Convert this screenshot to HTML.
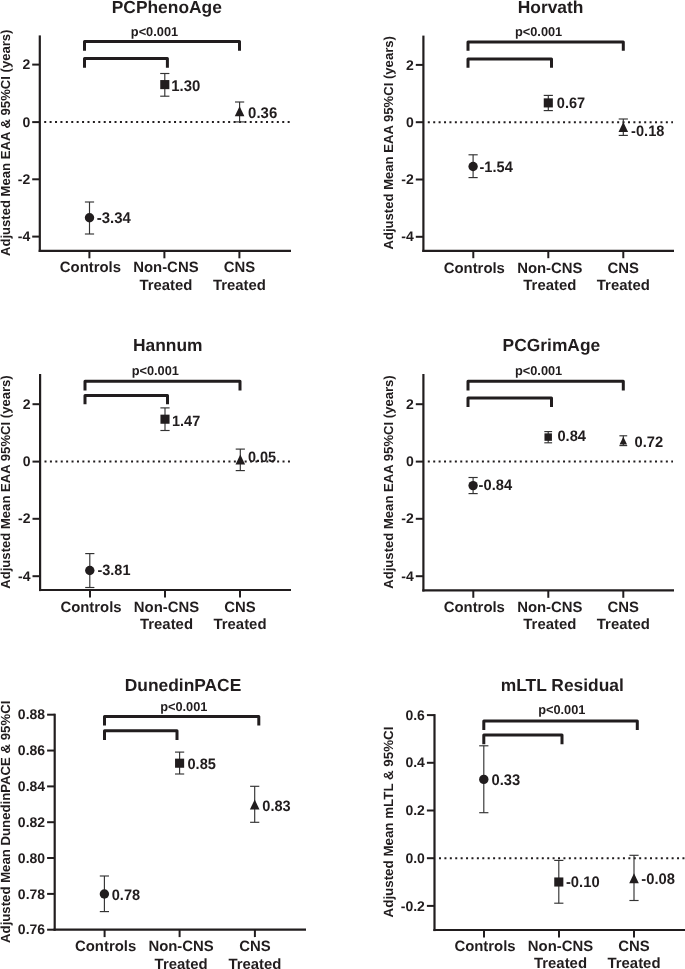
<!DOCTYPE html>
<html lang="en"><head><meta charset="utf-8"><title>Epigenetic age acceleration by group</title>
<style>html,body{margin:0;padding:0;background:#fff}body{width:685px;height:969px;overflow:hidden}svg{display:block;will-change:transform}svg text{text-rendering:geometricPrecision;font-family:'Liberation Sans', Arial, Helvetica, sans-serif;font-weight:700;fill:#211d1e}</style>
</head><body>
<svg width="685" height="969" viewBox="0 0 685 969">
<rect width="685" height="969" fill="#fff"/>
<g>
<text x="166.8" y="12.8" font-size="17.4" text-anchor="middle">PCPhenoAge</text>
<text transform="translate(10.4,142.8) rotate(-90)" font-size="13.1" text-anchor="middle">Adjusted Mean EAA &amp; 95%CI (years)</text>
<line x1="44.2" y1="122.1" x2="290" y2="122.1" stroke="#211d1e" stroke-width="2" stroke-dasharray="2 3.41"/>
<line x1="39.8" y1="35.4" x2="39.8" y2="252" stroke="#211d1e" stroke-width="2.2"/>
<line x1="38.7" y1="250.9" x2="291" y2="250.9" stroke="#211d1e" stroke-width="2.2"/>
<line x1="32.2" y1="64.6" x2="39.8" y2="64.6" stroke="#211d1e" stroke-width="2.0"/>
<text x="30.2" y="69.25" font-size="14" text-anchor="end">2</text>
<line x1="32.2" y1="122.1" x2="39.8" y2="122.1" stroke="#211d1e" stroke-width="2.0"/>
<text x="30.2" y="126.75" font-size="14" text-anchor="end">0</text>
<line x1="32.2" y1="179.3" x2="39.8" y2="179.3" stroke="#211d1e" stroke-width="2.0"/>
<text x="30.2" y="183.95" font-size="14" text-anchor="end">-2</text>
<line x1="32.2" y1="236.6" x2="39.8" y2="236.6" stroke="#211d1e" stroke-width="2.0"/>
<text x="30.2" y="241.25" font-size="14" text-anchor="end">-4</text>
<line x1="89.4" y1="250.9" x2="89.4" y2="258.3" stroke="#211d1e" stroke-width="2.0"/>
<line x1="164.4" y1="250.9" x2="164.4" y2="258.3" stroke="#211d1e" stroke-width="2.0"/>
<line x1="239.4" y1="250.9" x2="239.4" y2="258.3" stroke="#211d1e" stroke-width="2.0"/>
<text x="90.4" y="271.5" font-size="14.9" text-anchor="middle">Controls</text>
<text x="165.9" y="271.5" font-size="14.9" text-anchor="middle">Non-CNS</text>
<text x="165.9" y="289.6" font-size="14.9" text-anchor="middle">Treated</text>
<text x="239.4" y="271.5" font-size="14.9" text-anchor="middle">CNS</text>
<text x="239.4" y="289.6" font-size="14.9" text-anchor="middle">Treated</text>
<path d="M84.5 50.8V41.6H239.5V50.8" fill="none" stroke="#211d1e" stroke-width="3.0" stroke-linejoin="round"/>
<path d="M84.5 67.8V58.5H167.4V67.8" fill="none" stroke="#211d1e" stroke-width="3.0" stroke-linejoin="round"/>
<text x="154.5" y="35.6" font-size="12.8" text-anchor="middle">p&lt;0.001</text>
<line x1="89.5" y1="202" x2="89.5" y2="234" stroke="#333" stroke-width="1.15"/>
<line x1="84.9" y1="202" x2="94.1" y2="202" stroke="#333" stroke-width="1.15"/>
<line x1="84.9" y1="234" x2="94.1" y2="234" stroke="#333" stroke-width="1.15"/>
<circle cx="89.5" cy="217.8" r="4.7" fill="#211d1e"/>
<text transform="translate(96.75,223) scale(0.9662,1)" font-size="15.47">-3.34</text>
<line x1="164.8" y1="73.5" x2="164.8" y2="96.2" stroke="#333" stroke-width="1.15"/>
<line x1="160.2" y1="73.5" x2="169.4" y2="73.5" stroke="#333" stroke-width="1.15"/>
<line x1="160.2" y1="96.2" x2="169.4" y2="96.2" stroke="#333" stroke-width="1.15"/>
<rect x="160.25" y="80.05" width="9.1" height="9.1" fill="#211d1e"/>
<text transform="translate(171.3,90.9) scale(0.9662,1)" font-size="15.47">1.30</text>
<line x1="239.6" y1="102" x2="239.6" y2="121.9" stroke="#333" stroke-width="1.15"/>
<line x1="235" y1="102" x2="244.2" y2="102" stroke="#333" stroke-width="1.15"/>
<line x1="235" y1="121.9" x2="244.2" y2="121.9" stroke="#333" stroke-width="1.15"/>
<path d="M239.6 106.3L244.4 116.3H234.8Z" fill="#211d1e"/>
<text transform="translate(248.1,118) scale(0.9662,1)" font-size="15.47">0.36</text>
</g>
<g>
<text x="550.6" y="12.8" font-size="17.4" text-anchor="middle">Horvath</text>
<text transform="translate(392.5,142.8) rotate(-90)" font-size="13.1" text-anchor="middle">Adjusted Mean EAA 95%CI (years)</text>
<line x1="427.8" y1="122.2" x2="673" y2="122.2" stroke="#211d1e" stroke-width="2" stroke-dasharray="2 3.41"/>
<line x1="423.4" y1="35.6" x2="423.4" y2="251.9" stroke="#211d1e" stroke-width="2.2"/>
<line x1="422.3" y1="250.8" x2="674" y2="250.8" stroke="#211d1e" stroke-width="2.2"/>
<line x1="415.8" y1="64.9" x2="423.4" y2="64.9" stroke="#211d1e" stroke-width="2.0"/>
<text x="413.8" y="69.55" font-size="14" text-anchor="end">2</text>
<line x1="415.8" y1="122.2" x2="423.4" y2="122.2" stroke="#211d1e" stroke-width="2.0"/>
<text x="413.8" y="126.85" font-size="14" text-anchor="end">0</text>
<line x1="415.8" y1="179.5" x2="423.4" y2="179.5" stroke="#211d1e" stroke-width="2.0"/>
<text x="413.8" y="184.15" font-size="14" text-anchor="end">-2</text>
<line x1="415.8" y1="236.8" x2="423.4" y2="236.8" stroke="#211d1e" stroke-width="2.0"/>
<text x="413.8" y="241.45" font-size="14" text-anchor="end">-4</text>
<line x1="473.3" y1="250.8" x2="473.3" y2="258.2" stroke="#211d1e" stroke-width="2.0"/>
<line x1="548.3" y1="250.8" x2="548.3" y2="258.2" stroke="#211d1e" stroke-width="2.0"/>
<line x1="623.3" y1="250.8" x2="623.3" y2="258.2" stroke="#211d1e" stroke-width="2.0"/>
<text x="474.3" y="273.3" font-size="14.9" text-anchor="middle">Controls</text>
<text x="549.8" y="273.3" font-size="14.9" text-anchor="middle">Non-CNS</text>
<text x="549.8" y="289.8" font-size="14.9" text-anchor="middle">Treated</text>
<text x="623.3" y="273.3" font-size="14.9" text-anchor="middle">CNS</text>
<text x="623.3" y="289.8" font-size="14.9" text-anchor="middle">Treated</text>
<path d="M468 50.8V42H623.3V50.8" fill="none" stroke="#211d1e" stroke-width="3.0" stroke-linejoin="round"/>
<path d="M468 67.8V59H551.5V67.8" fill="none" stroke="#211d1e" stroke-width="3.0" stroke-linejoin="round"/>
<text x="538.6" y="35.7" font-size="12.8" text-anchor="middle">p&lt;0.001</text>
<line x1="473.1" y1="154.8" x2="473.1" y2="177.6" stroke="#333" stroke-width="1.15"/>
<line x1="468.5" y1="154.8" x2="477.7" y2="154.8" stroke="#333" stroke-width="1.15"/>
<line x1="468.5" y1="177.6" x2="477.7" y2="177.6" stroke="#333" stroke-width="1.15"/>
<circle cx="473.1" cy="166.45" r="4.7" fill="#211d1e"/>
<text transform="translate(479.5,171.7) scale(0.9662,1)" font-size="15.11">-1.54</text>
<line x1="548.3" y1="95.4" x2="548.3" y2="110.6" stroke="#333" stroke-width="1.15"/>
<line x1="543.7" y1="95.4" x2="552.9" y2="95.4" stroke="#333" stroke-width="1.15"/>
<line x1="543.7" y1="110.6" x2="552.9" y2="110.6" stroke="#333" stroke-width="1.15"/>
<rect x="543.75" y="98.35" width="9.1" height="9.1" fill="#211d1e"/>
<text transform="translate(556.8,107.9) scale(0.9662,1)" font-size="15.11">0.67</text>
<line x1="623.3" y1="119" x2="623.3" y2="135.4" stroke="#333" stroke-width="1.15"/>
<line x1="618.7" y1="119" x2="627.9" y2="119" stroke="#333" stroke-width="1.15"/>
<line x1="618.7" y1="135.4" x2="627.9" y2="135.4" stroke="#333" stroke-width="1.15"/>
<path d="M623.3 122L628.1 132H618.5Z" fill="#211d1e"/>
<text transform="translate(631.1,136.1) scale(0.9662,1)" font-size="15.11">-0.18</text>
</g>
<g>
<text x="167.8" y="351.3" font-size="17.4" text-anchor="middle">Hannum</text>
<text transform="translate(10.4,482) rotate(-90)" font-size="13.1" text-anchor="middle">Adjusted Mean EAA 95%CI (years)</text>
<line x1="44.5" y1="461.6" x2="290" y2="461.6" stroke="#211d1e" stroke-width="2" stroke-dasharray="2 3.41"/>
<line x1="40.1" y1="374" x2="40.1" y2="591.1" stroke="#211d1e" stroke-width="2.2"/>
<line x1="39" y1="590" x2="291" y2="590" stroke="#211d1e" stroke-width="2.2"/>
<line x1="32.5" y1="404.2" x2="40.1" y2="404.2" stroke="#211d1e" stroke-width="2.0"/>
<text x="30.5" y="408.85" font-size="14" text-anchor="end">2</text>
<line x1="32.5" y1="461.6" x2="40.1" y2="461.6" stroke="#211d1e" stroke-width="2.0"/>
<text x="30.5" y="466.25" font-size="14" text-anchor="end">0</text>
<line x1="32.5" y1="518.8" x2="40.1" y2="518.8" stroke="#211d1e" stroke-width="2.0"/>
<text x="30.5" y="523.45" font-size="14" text-anchor="end">-2</text>
<line x1="32.5" y1="576.2" x2="40.1" y2="576.2" stroke="#211d1e" stroke-width="2.0"/>
<text x="30.5" y="580.85" font-size="14" text-anchor="end">-4</text>
<line x1="90" y1="590" x2="90" y2="597.4" stroke="#211d1e" stroke-width="2.0"/>
<line x1="165" y1="590" x2="165" y2="597.4" stroke="#211d1e" stroke-width="2.0"/>
<line x1="240" y1="590" x2="240" y2="597.4" stroke="#211d1e" stroke-width="2.0"/>
<text x="91" y="611.8" font-size="14.9" text-anchor="middle">Controls</text>
<text x="166.5" y="611.8" font-size="14.9" text-anchor="middle">Non-CNS</text>
<text x="166.5" y="628.9" font-size="14.9" text-anchor="middle">Treated</text>
<text x="240" y="611.8" font-size="14.9" text-anchor="middle">CNS</text>
<text x="240" y="628.9" font-size="14.9" text-anchor="middle">Treated</text>
<path d="M85 390.4V381.2H240V390.4" fill="none" stroke="#211d1e" stroke-width="3.0" stroke-linejoin="round"/>
<path d="M85 404.3V395.4H167.5V404.3" fill="none" stroke="#211d1e" stroke-width="3.0" stroke-linejoin="round"/>
<text x="155.3" y="374.6" font-size="12.8" text-anchor="middle">p&lt;0.001</text>
<line x1="89.8" y1="553.6" x2="89.8" y2="587.5" stroke="#333" stroke-width="1.15"/>
<line x1="85.2" y1="553.6" x2="94.4" y2="553.6" stroke="#333" stroke-width="1.15"/>
<line x1="85.2" y1="587.5" x2="94.4" y2="587.5" stroke="#333" stroke-width="1.15"/>
<circle cx="89.8" cy="570.5" r="4.7" fill="#211d1e"/>
<text transform="translate(97.45,574.9) scale(0.9662,1)" font-size="15.01">-3.81</text>
<line x1="165" y1="407.9" x2="165" y2="430.5" stroke="#333" stroke-width="1.15"/>
<line x1="160.4" y1="407.9" x2="169.6" y2="407.9" stroke="#333" stroke-width="1.15"/>
<line x1="160.4" y1="430.5" x2="169.6" y2="430.5" stroke="#333" stroke-width="1.15"/>
<rect x="160.45" y="414.65" width="9.1" height="9.1" fill="#211d1e"/>
<text transform="translate(172,425.8) scale(0.9662,1)" font-size="15.01">1.47</text>
<line x1="240.3" y1="449.1" x2="240.3" y2="470.6" stroke="#333" stroke-width="1.15"/>
<line x1="235.7" y1="449.1" x2="244.9" y2="449.1" stroke="#333" stroke-width="1.15"/>
<line x1="235.7" y1="470.6" x2="244.9" y2="470.6" stroke="#333" stroke-width="1.15"/>
<path d="M240.3 454.4L245.1 464.4H235.5Z" fill="#211d1e"/>
<text transform="translate(247.9,462) scale(0.9662,1)" font-size="15.01">0.05</text>
</g>
<g>
<text x="551.4" y="351.3" font-size="17.4" text-anchor="middle">PCGrimAge</text>
<text transform="translate(392.5,482) rotate(-90)" font-size="13.1" text-anchor="middle">Adjusted Mean EAA 95%CI (years)</text>
<line x1="427.8" y1="461.6" x2="673" y2="461.6" stroke="#211d1e" stroke-width="2" stroke-dasharray="2 3.41"/>
<line x1="423.4" y1="374" x2="423.4" y2="591.5" stroke="#211d1e" stroke-width="2.2"/>
<line x1="422.3" y1="590.4" x2="674" y2="590.4" stroke="#211d1e" stroke-width="2.2"/>
<line x1="415.8" y1="404.2" x2="423.4" y2="404.2" stroke="#211d1e" stroke-width="2.0"/>
<text x="413.8" y="408.85" font-size="14" text-anchor="end">2</text>
<line x1="415.8" y1="461.6" x2="423.4" y2="461.6" stroke="#211d1e" stroke-width="2.0"/>
<text x="413.8" y="466.25" font-size="14" text-anchor="end">0</text>
<line x1="415.8" y1="518.8" x2="423.4" y2="518.8" stroke="#211d1e" stroke-width="2.0"/>
<text x="413.8" y="523.45" font-size="14" text-anchor="end">-2</text>
<line x1="415.8" y1="576.2" x2="423.4" y2="576.2" stroke="#211d1e" stroke-width="2.0"/>
<text x="413.8" y="580.85" font-size="14" text-anchor="end">-4</text>
<line x1="473.3" y1="590.4" x2="473.3" y2="597.8" stroke="#211d1e" stroke-width="2.0"/>
<line x1="548.3" y1="590.4" x2="548.3" y2="597.8" stroke="#211d1e" stroke-width="2.0"/>
<line x1="623.3" y1="590.4" x2="623.3" y2="597.8" stroke="#211d1e" stroke-width="2.0"/>
<text x="474.3" y="612.3" font-size="14.9" text-anchor="middle">Controls</text>
<text x="549.8" y="612.3" font-size="14.9" text-anchor="middle">Non-CNS</text>
<text x="549.8" y="628.5" font-size="14.9" text-anchor="middle">Treated</text>
<text x="623.3" y="612.3" font-size="14.9" text-anchor="middle">CNS</text>
<text x="623.3" y="628.5" font-size="14.9" text-anchor="middle">Treated</text>
<path d="M468 390.4V381.2H623.3V390.4" fill="none" stroke="#211d1e" stroke-width="3.0" stroke-linejoin="round"/>
<path d="M468 407.1V398H551.5V407.1" fill="none" stroke="#211d1e" stroke-width="3.0" stroke-linejoin="round"/>
<text x="538.6" y="374.9" font-size="12.8" text-anchor="middle">p&lt;0.001</text>
<line x1="473.1" y1="477.5" x2="473.1" y2="493.6" stroke="#333" stroke-width="1.15"/>
<line x1="468.5" y1="477.5" x2="477.7" y2="477.5" stroke="#333" stroke-width="1.15"/>
<line x1="468.5" y1="493.6" x2="477.7" y2="493.6" stroke="#333" stroke-width="1.15"/>
<circle cx="473.1" cy="485.6" r="4.7" fill="#211d1e"/>
<text transform="translate(478.6,490.1) scale(0.9662,1)" font-size="15.21">-0.84</text>
<line x1="548.2" y1="431.6" x2="548.2" y2="442.8" stroke="#333" stroke-width="1.15"/>
<line x1="544.29" y1="431.6" x2="552.11" y2="431.6" stroke="#333" stroke-width="1.15"/>
<line x1="544.29" y1="442.8" x2="552.11" y2="442.8" stroke="#333" stroke-width="1.15"/>
<rect x="544.47" y="433.37" width="7.46" height="7.46" fill="#211d1e"/>
<text transform="translate(557.4,441) scale(0.9662,1)" font-size="15.21">0.84</text>
<line x1="623.3" y1="435.8" x2="623.3" y2="445.6" stroke="#333" stroke-width="1.15"/>
<line x1="619.39" y1="435.8" x2="627.21" y2="435.8" stroke="#333" stroke-width="1.15"/>
<line x1="619.39" y1="445.6" x2="627.21" y2="445.6" stroke="#333" stroke-width="1.15"/>
<path d="M623.3 436.63L627.04 444.57H619.56Z" fill="#211d1e"/>
<text transform="translate(634.5,446.9) scale(0.9662,1)" font-size="15.21">0.72</text>
</g>
<g>
<text x="183" y="690.6" font-size="17.4" text-anchor="middle">DunedinPACE</text>
<text transform="translate(10.3,821.8) rotate(-90)" font-size="13.2" text-anchor="middle">Adjusted Mean DunedinPACE &amp; 95%CI</text>
<line x1="54.7" y1="713.7" x2="54.7" y2="930.8" stroke="#211d1e" stroke-width="2.2"/>
<line x1="53.6" y1="929.7" x2="306" y2="929.7" stroke="#211d1e" stroke-width="2.2"/>
<line x1="47.1" y1="714.7" x2="54.7" y2="714.7" stroke="#211d1e" stroke-width="2.0"/>
<text x="45.1" y="719.35" font-size="14" text-anchor="end">0.88</text>
<line x1="47.1" y1="750.55" x2="54.7" y2="750.55" stroke="#211d1e" stroke-width="2.0"/>
<text x="45.1" y="755.2" font-size="14" text-anchor="end">0.86</text>
<line x1="47.1" y1="786.4" x2="54.7" y2="786.4" stroke="#211d1e" stroke-width="2.0"/>
<text x="45.1" y="791.05" font-size="14" text-anchor="end">0.84</text>
<line x1="47.1" y1="822.2" x2="54.7" y2="822.2" stroke="#211d1e" stroke-width="2.0"/>
<text x="45.1" y="826.85" font-size="14" text-anchor="end">0.82</text>
<line x1="47.1" y1="858" x2="54.7" y2="858" stroke="#211d1e" stroke-width="2.0"/>
<text x="45.1" y="862.65" font-size="14" text-anchor="end">0.80</text>
<line x1="47.1" y1="893.9" x2="54.7" y2="893.9" stroke="#211d1e" stroke-width="2.0"/>
<text x="45.1" y="898.55" font-size="14" text-anchor="end">0.78</text>
<line x1="47.1" y1="929.7" x2="54.7" y2="929.7" stroke="#211d1e" stroke-width="2.0"/>
<text x="45.1" y="934.35" font-size="14" text-anchor="end">0.76</text>
<line x1="104.6" y1="929.7" x2="104.6" y2="937.1" stroke="#211d1e" stroke-width="2.0"/>
<line x1="179.6" y1="929.7" x2="179.6" y2="937.1" stroke="#211d1e" stroke-width="2.0"/>
<line x1="254.9" y1="929.7" x2="254.9" y2="937.1" stroke="#211d1e" stroke-width="2.0"/>
<text x="105.6" y="950.7" font-size="14.9" text-anchor="middle">Controls</text>
<text x="181.1" y="950.7" font-size="14.9" text-anchor="middle">Non-CNS</text>
<text x="181.1" y="968.6" font-size="14.9" text-anchor="middle">Treated</text>
<text x="254.9" y="950.7" font-size="14.9" text-anchor="middle">CNS</text>
<text x="254.9" y="968.6" font-size="14.9" text-anchor="middle">Treated</text>
<path d="M104.5 725.4V716.5H258.8V725.4" fill="none" stroke="#211d1e" stroke-width="3.0" stroke-linejoin="round"/>
<path d="M104.5 740.1V730.8H177V740.1" fill="none" stroke="#211d1e" stroke-width="3.0" stroke-linejoin="round"/>
<text x="183.8" y="710.5" font-size="12.8" text-anchor="middle">p&lt;0.001</text>
<line x1="104.4" y1="876" x2="104.4" y2="911.6" stroke="#333" stroke-width="1.15"/>
<line x1="99.8" y1="876" x2="109" y2="876" stroke="#333" stroke-width="1.15"/>
<line x1="99.8" y1="911.6" x2="109" y2="911.6" stroke="#333" stroke-width="1.15"/>
<circle cx="104.4" cy="894" r="4.7" fill="#211d1e"/>
<text transform="translate(111.75,899.5) scale(0.9662,1)" font-size="15.11">0.78</text>
<line x1="179.6" y1="752.1" x2="179.6" y2="774" stroke="#333" stroke-width="1.15"/>
<line x1="175" y1="752.1" x2="184.2" y2="752.1" stroke="#333" stroke-width="1.15"/>
<line x1="175" y1="774" x2="184.2" y2="774" stroke="#333" stroke-width="1.15"/>
<rect x="175.05" y="758.65" width="9.1" height="9.1" fill="#211d1e"/>
<text transform="translate(187.45,768.9) scale(0.9662,1)" font-size="15.11">0.85</text>
<line x1="254.7" y1="786.3" x2="254.7" y2="822.3" stroke="#333" stroke-width="1.15"/>
<line x1="250.1" y1="786.3" x2="259.3" y2="786.3" stroke="#333" stroke-width="1.15"/>
<line x1="250.1" y1="822.3" x2="259.3" y2="822.3" stroke="#333" stroke-width="1.15"/>
<path d="M254.7 799.4L259.5 809.4H249.9Z" fill="#211d1e"/>
<text transform="translate(262.3,810.6) scale(0.9662,1)" font-size="15.11">0.83</text>
</g>
<g>
<text x="562.3" y="690.6" font-size="17.4" text-anchor="middle">mLTL Residual</text>
<text transform="translate(392.8,822) rotate(-90)" font-size="13.35" text-anchor="middle">Adjusted Mean mLTL &amp; 95%CI</text>
<line x1="439" y1="858.2" x2="685" y2="858.2" stroke="#211d1e" stroke-width="2" stroke-dasharray="2 3.41"/>
<line x1="434.5" y1="714.1" x2="434.5" y2="931.1" stroke="#211d1e" stroke-width="2.2"/>
<line x1="433.4" y1="930" x2="685" y2="930" stroke="#211d1e" stroke-width="2.2"/>
<line x1="426.9" y1="715.1" x2="434.5" y2="715.1" stroke="#211d1e" stroke-width="2.0"/>
<text x="424.9" y="719.75" font-size="14" text-anchor="end">0.6</text>
<line x1="426.9" y1="762.8" x2="434.5" y2="762.8" stroke="#211d1e" stroke-width="2.0"/>
<text x="424.9" y="767.45" font-size="14" text-anchor="end">0.4</text>
<line x1="426.9" y1="810.5" x2="434.5" y2="810.5" stroke="#211d1e" stroke-width="2.0"/>
<text x="424.9" y="815.15" font-size="14" text-anchor="end">0.2</text>
<line x1="426.9" y1="858.2" x2="434.5" y2="858.2" stroke="#211d1e" stroke-width="2.0"/>
<text x="424.9" y="862.85" font-size="14" text-anchor="end">0.0</text>
<line x1="426.9" y1="905.9" x2="434.5" y2="905.9" stroke="#211d1e" stroke-width="2.0"/>
<text x="424.9" y="910.55" font-size="14" text-anchor="end">-0.2</text>
<line x1="484" y1="930" x2="484" y2="937.4" stroke="#211d1e" stroke-width="2.0"/>
<line x1="559" y1="930" x2="559" y2="937.4" stroke="#211d1e" stroke-width="2.0"/>
<line x1="634" y1="930" x2="634" y2="937.4" stroke="#211d1e" stroke-width="2.0"/>
<text x="485" y="950.7" font-size="14.9" text-anchor="middle">Controls</text>
<text x="560.5" y="950.7" font-size="14.9" text-anchor="middle">Non-CNS</text>
<text x="560.5" y="968.1" font-size="14.9" text-anchor="middle">Treated</text>
<text x="634" y="950.7" font-size="14.9" text-anchor="middle">CNS</text>
<text x="634" y="968.1" font-size="14.9" text-anchor="middle">Treated</text>
<path d="M483.8 730.1V721H637.3V730.1" fill="none" stroke="#211d1e" stroke-width="3.0" stroke-linejoin="round"/>
<path d="M483.8 744.3V735H562V744.3" fill="none" stroke="#211d1e" stroke-width="3.0" stroke-linejoin="round"/>
<text x="561.8" y="714.4" font-size="12.8" text-anchor="middle">p&lt;0.001</text>
<line x1="483.8" y1="745.8" x2="483.8" y2="812.7" stroke="#333" stroke-width="1.15"/>
<line x1="479.2" y1="745.8" x2="488.4" y2="745.8" stroke="#333" stroke-width="1.15"/>
<line x1="479.2" y1="812.7" x2="488.4" y2="812.7" stroke="#333" stroke-width="1.15"/>
<circle cx="483.8" cy="779.4" r="4.7" fill="#211d1e"/>
<text transform="translate(491.4,784.6) scale(0.9662,1)" font-size="15.32">0.33</text>
<line x1="558.8" y1="860.4" x2="558.8" y2="903.2" stroke="#333" stroke-width="1.15"/>
<line x1="554.2" y1="860.4" x2="563.4" y2="860.4" stroke="#333" stroke-width="1.15"/>
<line x1="554.2" y1="903.2" x2="563.4" y2="903.2" stroke="#333" stroke-width="1.15"/>
<rect x="554.25" y="877.45" width="9.1" height="9.1" fill="#211d1e"/>
<text transform="translate(565.9,886.5) scale(0.9662,1)" font-size="15.32">-0.10</text>
<line x1="634" y1="855.3" x2="634" y2="900.5" stroke="#333" stroke-width="1.15"/>
<line x1="629.4" y1="855.3" x2="638.6" y2="855.3" stroke="#333" stroke-width="1.15"/>
<line x1="629.4" y1="900.5" x2="638.6" y2="900.5" stroke="#333" stroke-width="1.15"/>
<path d="M634 873.2L638.8 883.2H629.2Z" fill="#211d1e"/>
<text transform="translate(641.3,883.5) scale(0.9662,1)" font-size="15.32">-0.08</text>
</g>
</svg></body></html>
